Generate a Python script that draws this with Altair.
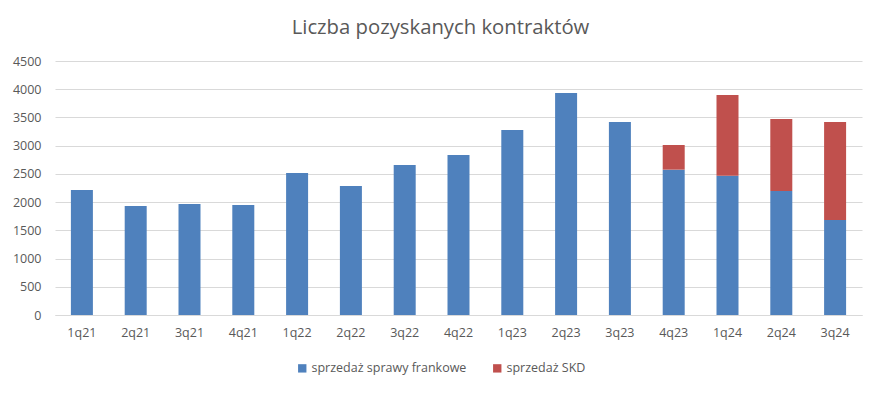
import altair as alt
import pandas as pd

quarters = ["1q21", "2q21", "3q21", "4q21", "1q22", "2q22", "3q22", "4q22",
            "1q23", "2q23", "3q23", "4q23", "1q24", "2q24", "3q24"]
frankowe = [2215, 1931, 1967, 1949, 2516, 2285, 2658, 2835,
            3278, 3933, 3419, 2575, 2469, 2197, 1683]
skd = [0, 0, 0, 0, 0, 0, 0, 0, 0, 0, 0, 437, 1429, 1275, 1736]
series = ["sprzedaż sprawy frankowe", "sprzedaż SKD"]
colors = ["#4F81BD", "#C0504D"]

rows = []
for q, f, s in zip(quarters, frankowe, skd):
    rows.append({"q": q, "series": series[0], "value": f, "ord": 0})
    rows.append({"q": q, "series": series[1], "value": s, "ord": 1})
df = pd.DataFrame(rows)

FONT = "Open Sans"
GREY = "#595959"

chart = alt.Chart(df).mark_bar(size=22).encode(
    x=alt.X("q:N", sort=quarters, title=None,
            axis=alt.Axis(labelAngle=0, labelFontSize=12.5, labelColor=GREY, labelFont=FONT,
                          ticks=False, domainColor="#D9D9D9", labelPadding=11)),
    y=alt.Y("value:Q", title=None, stack="zero",
            scale=alt.Scale(domain=[0, 4500]),
            axis=alt.Axis(values=list(range(0, 4501, 500)), format="d", labelFontSize=12.5,
                          labelColor=GREY, labelFont=FONT, ticks=False, domain=False,
                          gridColor="#D9D9D9", labelPadding=14)),
    color=alt.Color("series:N", sort=series,
                    scale=alt.Scale(domain=series, range=colors),
                    legend=alt.Legend(title=None, orient="none", direction="horizontal",
                                      legendX=241, legendY=301, symbolType="square",
                                      symbolSize=70, symbolStrokeWidth=0, labelFontSize=12.5,
                                      labelColor=GREY, labelFont=FONT, columnPadding=24,
                                      labelOffset=3)),
    order=alt.Order("ord:Q"),
).properties(
    width=807, height=254,
    title=alt.TitleParams("Liczba pozyskanych kontraktów", fontSize=20.3, color=GREY,
                          font=FONT, fontWeight="normal", anchor="middle", dx=-18, offset=17),
    autosize=alt.AutoSizeParams(type="none"),
    padding={"left": 47, "top": 53, "right": 3, "bottom": 62},
).configure_view(stroke=None)

chart.save("out.html", embed_options={"renderer": "svg", "actions": False})
